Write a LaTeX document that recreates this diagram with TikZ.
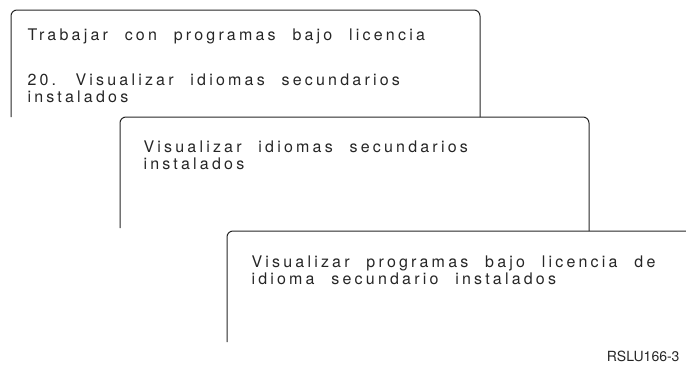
\documentclass[tikz,border=0pt]{standalone}
\usepackage{fontspec}
\setmainfont{TeX Gyre Heros}
\newfontfamily\screenfont[LetterSpace=20,WordSpace=2.2]{TeX Gyre Heros}
\usepackage[dvipsnames]{xcolor}

\begin{document}
\begin{tikzpicture}[x=1pt, y=-1pt, line width=1pt,
    panel/.style={draw=black!85, rounded corners=6pt},
    screentext/.style={anchor=base west, inner sep=0pt, font=\fontsize{16}{18}\screenfont, text=black!85},
    figlabel/.style={anchor=base east, inner sep=0pt, font=\fontsize{14}{16}\selectfont, text=black!85}]
    \useasboundingbox (0,0) rectangle (686,370);
    % first screen
    \draw[panel] (11,117) -- (11,10) -- (480,10) -- (480,117);
    \node[screentext] (workLp) at (27,40) {Trabajar con programas bajo licencia};
    \node[screentext] (optTwenty) at (27,85) {20. Visualizar idiomas secundarios};
    \node[screentext] (optTwentyB) at (27,102) {instalados};
    % second screen
    \draw[panel] (120,228) -- (120,117) -- (589,117) -- (589,231);
    \node[screentext] (dspLang) at (143,152) {Visualizar idiomas secundarios};
    \node[screentext] (dspLangB) at (143,169) {instalados};
    % third screen
    \draw[panel] (227,342) -- (227,231) -- (686,231);
    \node[screentext] (dspLp) at (251,267) {Visualizar programas bajo licencia de};
    \node[screentext] (dspLpB) at (251,284) {idioma secundario instalados};
    \node[figlabel] (figId) at (680,361) {RSLU166-3};
\end{tikzpicture}
\end{document}
